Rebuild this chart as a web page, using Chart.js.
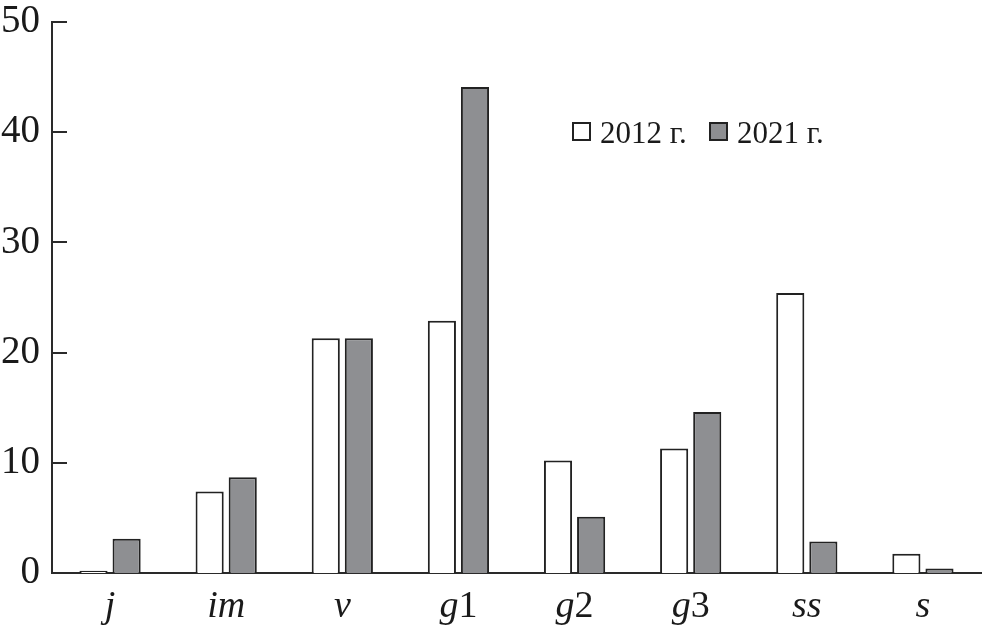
<!DOCTYPE html>
<html>
<head>
<meta charset="utf-8">
<script src="https://cdn.jsdelivr.net/npm/chart.js@4/dist/chart.umd.min.js"></script>
<style>
  html, body { margin: 0; padding: 0; background: #fff; }
  #wrap { width: 985px; height: 635px; }
</style>
</head>
<body>
<div id="wrap"><canvas id="chart"></canvas></div>
<script>
// categories and values
const categories = ["j", "im", "v", "g1", "g2", "g3", "ss", "s"];
const values2012 = [0.2, 7.4, 21.3, 22.9, 10.2, 11.3, 25.4, 1.75];
const values2021 = [3.1, 8.7, 21.3, 44.1, 5.1, 14.6, 2.85, 0.4];
const yTicks = [0, 10, 20, 30, 40, 50];

const serif = "'Liberation Serif', 'DejaVu Serif', serif";

// tick marks pointing into the plot
const innerTicks = {
  id: 'innerTicks',
  afterDatasetsDraw(chart) {
    const ctx = chart.ctx;
    const y = chart.scales.y;
    const left = chart.chartArea.left;
    ctx.save();
    ctx.strokeStyle = '#2a2a2a';
    ctx.lineWidth = 2;
    yTicks.forEach(v => {
      const py = Math.round(y.getPixelForValue(v));
      ctx.beginPath();
      ctx.moveTo(left, py);
      ctx.lineTo(left + 15, py);
      ctx.stroke();
    });
    ctx.restore();
  }
};

// category labels: letters italic, digits upright
const mixedLabels = {
  id: 'mixedLabels',
  afterDraw(chart) {
    const ctx = chart.ctx;
    const x = chart.scales.x;
    const baseY = 617;
    ctx.save();
    ctx.fillStyle = '#1a1a1a';
    ctx.textBaseline = 'alphabetic';
    categories.forEach((lab, i) => {
      const parts = lab.match(/[^0-9]+|[0-9]+/g);
      const fonts = parts.map(p => (/[0-9]/.test(p) ? '' : 'italic ') + '38px ' + serif);
      let total = 0;
      const widths = parts.map((p, k) => { ctx.font = fonts[k]; const w = ctx.measureText(p).width; total += w; return w; });
      let cx = x.getPixelForValue(i) - total / 2;
      parts.forEach((p, k) => {
        ctx.font = fonts[k];
        ctx.textAlign = 'left';
        ctx.fillText(p, cx, baseY);
        cx += widths[k];
      });
    });
    ctx.restore();
  }
};

// legend placed inside the plot area
const boxLegend = {
  id: 'boxLegend',
  afterDraw(chart) {
    const ctx = chart.ctx;
    const items = chart.data.datasets;
    const xs = [573, 710];
    ctx.save();
    ctx.font = "31px " + serif;
    ctx.textBaseline = 'alphabetic';
    items.forEach((ds, i) => {
      const x = xs[i];
      ctx.fillStyle = ds.backgroundColor;
      ctx.fillRect(x, 123, 17, 17);
      ctx.strokeStyle = '#222';
      ctx.lineWidth = 2;
      ctx.strokeRect(x, 123, 17, 17);
      ctx.fillStyle = '#1a1a1a';
      ctx.fillText(ds.label, x + 27, 143);
    });
    ctx.restore();
  }
};

new Chart(document.getElementById('chart'), {
  type: 'bar',
  data: {
    labels: categories,
    datasets: [
      {
        label: '2012 г.',
        data: values2012,
        backgroundColor: '#ffffff',
        borderColor: '#222222',
        borderWidth: 2,
        borderSkipped: 'bottom'
      },
      {
        label: '2021 г.',
        data: values2021,
        backgroundColor: '#8e8f92',
        borderColor: '#222222',
        borderWidth: 2,
        borderSkipped: 'bottom'
      }
    ]
  },
  options: {
    responsive: true,
    maintainAspectRatio: false,
    animation: false,
    categoryPercentage: 0.57,
    barPercentage: 0.85,
    layout: { padding: { top: 22, right: 4, left: 0, bottom: 0 } },
    plugins: {
      legend: { display: false },
      tooltip: { enabled: false }
    },
    scales: {
      x: {
        grid: { display: false, drawTicks: false },
        border: { display: true, color: '#2a2a2a', width: 2 },
        ticks: { display: false },
        afterFit(scale) { scale.height = 62; scale.paddingLeft = 0; scale.paddingRight = 0; }
      },
      y: {
        min: 0,
        max: 50,
        afterBuildTicks(scale) { scale.ticks = yTicks.map(v => ({ value: v })); },
        grid: { display: false, drawTicks: false },
        border: { display: true, color: '#2a2a2a', width: 2 },
        ticks: {
          color: '#1a1a1a',
          padding: 12,
          font: { family: serif, size: 39 }
        },
        afterFit(scale) { scale.width = 52; scale.paddingTop = 0; scale.paddingBottom = 0; }
      }
    }
  },
  plugins: [innerTicks, mixedLabels, boxLegend]
});
</script>
</body>
</html>
